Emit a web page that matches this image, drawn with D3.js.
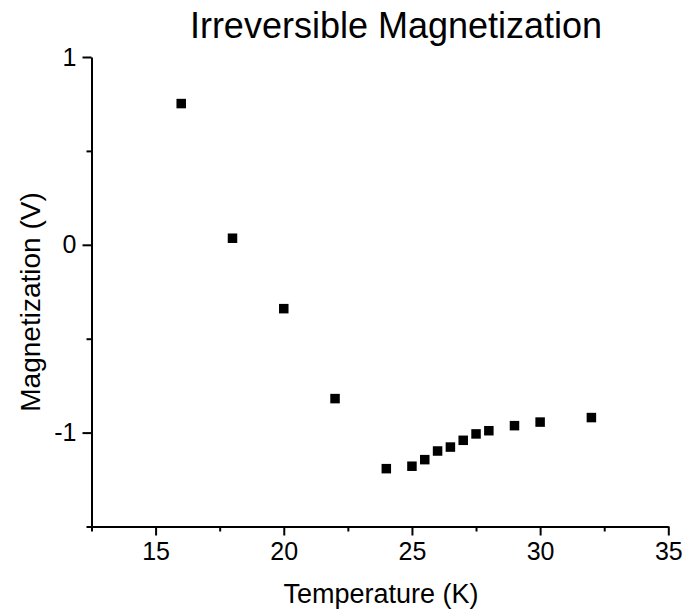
<!DOCTYPE html>
<html>
<head>
<meta charset="utf-8">
<script src="https://cdn.jsdelivr.net/npm/d3@7"></script>
<style>
  html, body { margin: 0; padding: 0; background: #fff; }
  svg { display: block; font-family: "Liberation Sans", Arial, sans-serif; }
</style>
</head>
<body>
<svg id="chart" width="686" height="616"></svg>
<script>
const temperature = [16, 18, 20, 22, 24, 25, 25.5, 26, 26.5, 27, 27.5, 28, 29, 30, 32];
const magnetization = [0.752, 0.035, -0.340, -0.819, -1.192, -1.179, -1.144, -1.098, -1.077, -1.041, -1.007, -0.990, -0.963, -0.944, -0.920];
const xMajorTicks = [15, 20, 25, 30, 35];
const xMinorTicks = [12.5, 17.5, 22.5, 27.5, 32.5];
const yMajorTicks = [1, 0, -1];
const yMinorTicks = [0.5, -0.5, -1.5];
const titleText = "Irreversible Magnetization";
const xTitle = "Temperature (K)";
const yTitle = "Magnetization (V)";

const svg = d3.select("#chart");
const x = d3.scaleLinear().domain([12.5, 35]).range([91.5, 668.3]);
const y = d3.scaleLinear().domain([-1.5, 1]).range([526.5, 57]);

const fmt = d => d3.format("d")(d).replace("\u2212", "-");

// X axis
const gx = svg.append("g").attr("transform", `translate(0,${y(-1.5)})`);
gx.call(d3.axisBottom(x).tickValues(xMajorTicks).tickSize(9).tickSizeOuter(0).tickPadding(7).tickFormat(fmt));
gx.append("g").call(d3.axisBottom(x).tickValues(xMinorTicks).tickSize(5).tickSizeOuter(0).tickFormat(""))
  .select(".domain").remove();

// Y axis
const gy = svg.append("g").attr("transform", `translate(${x(12.5)},0)`);
gy.call(d3.axisLeft(y).tickValues(yMajorTicks).tickSize(9).tickSizeOuter(0).tickPadding(6).tickFormat(fmt));
gy.append("g").call(d3.axisLeft(y).tickValues(yMinorTicks).tickSize(5).tickSizeOuter(0).tickFormat(""))
  .select(".domain").remove();

svg.selectAll(".domain").attr("stroke", "#000").attr("stroke-width", 2);
svg.selectAll(".tick line").attr("stroke", "#000").attr("stroke-width", 2);
svg.selectAll(".tick text").attr("fill", "#000").style("font-size", "25px")
  .style("font-family", "'Liberation Sans', Arial, sans-serif");

// Points
const sz = 9.5;
svg.append("g").selectAll("rect")
  .data(temperature.map((t, i) => ({ t, m: magnetization[i] })))
  .join("rect")
  .attr("x", d => x(d.t) - sz / 2)
  .attr("y", d => y(d.m) - sz / 2)
  .attr("width", sz).attr("height", sz)
  .attr("fill", "#000");

// Title
svg.append("text")
  .attr("x", 396).attr("y", 38)
  .attr("text-anchor", "middle")
  .style("font-size", "36px")
  .text(titleText);

// X title
svg.append("text")
  .attr("x", 381).attr("y", 603)
  .attr("text-anchor", "middle")
  .style("font-size", "27px")
  .text(xTitle);

// Y title
svg.append("text")
  .attr("transform", `translate(40,${302}) rotate(-90)`)
  .attr("text-anchor", "middle")
  .style("font-size", "28px")
  .text(yTitle);
</script>
</body>
</html>
